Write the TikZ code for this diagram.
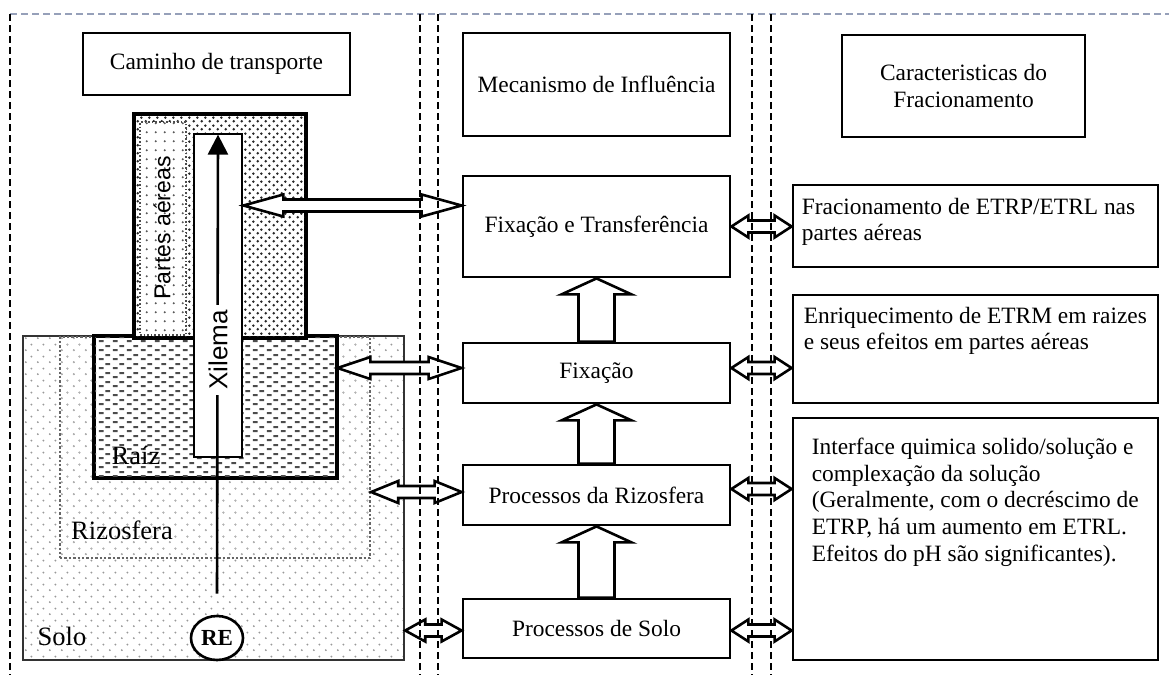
\documentclass[tikz,border=0pt]{standalone}
\usepackage{fontspec}
\setmainfont{Liberation Serif}
\newfontfamily\labelsans{Liberation Sans}
\usetikzlibrary{positioning,calc,shapes.geometric,patterns,arrows.meta}

\definecolor{framegray}{RGB}{150,160,185}

% fill patterns for the soil / plant cut-away
\pgfdeclarepatternformonly{leafdots}{\pgfpointorigin}{\pgfpoint{8pt}{8pt}}{\pgfpoint{8pt}{8pt}}{%
  \pgfpathcircle{\pgfpoint{2pt}{2pt}}{1.5pt}\pgfpathcircle{\pgfpoint{6pt}{6pt}}{1.5pt}\pgfusepath{fill}}
\pgfdeclarepatternformonly{paledots}{\pgfpointorigin}{\pgfpoint{9pt}{9pt}}{\pgfpoint{9pt}{9pt}}{%
  \pgfpathcircle{\pgfpoint{3pt}{3pt}}{1.2pt}\pgfusepath{fill}}
\pgfdeclarepatternformonly{soildots}{\pgfpointorigin}{\pgfpoint{12pt}{12pt}}{\pgfpoint{12pt}{12pt}}{%
  \pgfpathcircle{\pgfpoint{2pt}{2pt}}{1.1pt}\pgfpathcircle{\pgfpoint{8pt}{8pt}}{1.1pt}\pgfusepath{fill}}
\pgfdeclarepatternformonly{rootdash}{\pgfpointorigin}{\pgfpoint{14pt}{9pt}}{\pgfpoint{14pt}{9pt}}{%
  \pgfpathrectangle{\pgfpoint{1pt}{1pt}}{\pgfpoint{5pt}{2.2pt}}%
  \pgfpathrectangle{\pgfpoint{8pt}{5.5pt}}{\pgfpoint{5pt}{2.2pt}}\pgfusepath{fill}}

% hollow double arrow: left point, right point, head length, head half, shaft half
\newcommand{\twoway}[5]{%
  \draw[hollow] let \p1=#1, \p2=#2 in
    (\x1,\y1) -- (\x1+#3pt,\y1+#4pt) -- (\x1+#3pt,\y1+#5pt) -- (\x2-#3pt,\y1+#5pt)
    -- (\x2-#3pt,\y1+#4pt) -- (\x2,\y1) -- (\x2-#3pt,\y1-#4pt) -- (\x2-#3pt,\y1-#5pt)
    -- (\x1+#3pt,\y1-#5pt) -- (\x1+#3pt,\y1-#4pt) -- cycle;}
% hollow upward arrow: foot, tip
\newcommand{\oneup}[2]{%
  \draw[hollow] let \p1=#1, \p2=#2 in
    (\x1-18pt,\y1) -- (\x1-18pt,\y2-16pt) -- (\x1-35pt,\y2-16pt) -- (\x1,\y2)
    -- (\x1+35pt,\y2-16pt) -- (\x1+18pt,\y2-16pt) -- (\x1+18pt,\y1) -- cycle;}

\begin{document}
\begin{tikzpicture}[x=1pt,y=-1pt,
    boxnode/.style={draw,line width=2.8pt,inner sep=0pt,align=center,
      font=\fontsize{23.4}{27}\selectfont},
    txt/.style={inner sep=0pt,align=left,font=\fontsize{23.4}{26.8}\selectfont},
    region/.style={line width=2.8pt,inner sep=0pt},
    biglabel/.style={inner sep=0pt,font=\fontsize{26.5}{30}\selectfont},
    hollow/.style={draw,fill=white,line width=2.6pt,line join=miter},
    sepline/.style={line width=2.6pt,dash pattern=on 7pt off 4pt}]
  \useasboundingbox (0,0) rectangle (1169,675);

  % column titles
  \node[boxnode,minimum width=267pt,minimum height=62pt] (titleL) at (216.5,64) {Caminho de transporte};
  \node[boxnode,minimum width=267pt,minimum height=103pt] (titleM) at (596.5,84.5) {Mecanismo de Influência};
  \node[boxnode,minimum width=243pt,minimum height=102pt] (titleR) at (963.5,86)
    {Caracteristicas do\\Fracionamento};

  % cut-away: soil, rhizosphere, root, shoots, xylem
  \node[region,draw=black!80,line width=2.4pt,pattern=soildots,pattern color=black!40,
    minimum width=381pt,minimum height=324pt] (solo) at (213.5,498) {};
  \node[region,draw=black!60,line width=2.4pt,dotted,pattern=soildots,pattern color=black!30,
    minimum width=310pt,minimum height=221pt] (rizo) at (215,447.5) {};
  \node[region,draw,fill=white,minimum width=241pt,minimum height=140pt] (raiz) at (215.5,407) {};
  \fill[pattern=rootdash,pattern color=black!70] (raiz.south west) rectangle (raiz.north east);
  \draw[line width=2.8pt] (raiz.south west) rectangle (raiz.north east);
  \node[region,draw,fill=white,minimum width=170pt,minimum height=222pt] (partes) at (220,226) {};
  \fill[pattern=leafdots,pattern color=black!85] (partes.south west) rectangle (partes.north east);
  \node[region,draw=black!70,line width=1.6pt,dotted,fill=white,
    minimum width=46pt,minimum height=213pt] (pale) at (163,228.5) {};
  \fill[pattern=paledots,pattern color=black!65] (pale.south west) rectangle (pale.north east);
  \draw[line width=2.8pt] (partes.south west) rectangle (partes.north east);
  \node[region,draw,fill=white,minimum width=48pt,minimum height=323pt] (xyl) at (218,295.5) {};

  % labels of the cut-away
  \node[inner sep=0pt,rotate=90,font=\labelsans\fontsize{23}{26}\selectfont] (lbPartes) at (162,228) {Partes aéreas};
  \node[biglabel] (lbRaiz) at (136,455) {Raíz};
  \node[biglabel] (lbRizo) at (122,530) {Rizosfera};
  \node[biglabel] (lbSolo) at (62,636) {Solo};
  \node[draw,ellipse,line width=2.6pt,fill=white,inner sep=0pt,minimum width=52pt,minimum height=44pt,
    font=\bfseries\fontsize{23}{25}\selectfont] (re) at (217,638) {RE};

  % uptake path up the xylem
  \coordinate (xstart) at ($(re.north)+(0,-21)$);
  \draw[line width=2.6pt,-{Triangle[length=20pt,width=20pt]}] (xstart) -- ($(xyl.north)+(0,2)$);
  \node[fill=white,inner sep=5pt,rotate=90,font=\labelsans\fontsize{26}{28}\selectfont] (lbXyl) at (218,350) {Xilema};

  % mechanisms
  \node[boxnode,minimum width=267pt,minimum height=101pt] (fixT) at (596.5,226.5) {Fixação e Transferência};
  \node[boxnode,minimum width=267pt,minimum height=60pt] (fix) at (596.5,373) {Fixação};
  \node[boxnode,minimum width=267pt,minimum height=60pt] (procR) at (596.5,495) {Processos da Rizosfera};
  \node[boxnode,minimum width=267pt,minimum height=59pt] (procS) at (596.5,628.5) {Processos de Solo};

  % fractionation characteristics
  \node[boxnode,minimum width=365pt,minimum height=82pt] (frac1) at (975.5,226) {};
  \node[boxnode,minimum width=365pt,minimum height=108pt] (frac2) at (975.5,349) {};
  \node[boxnode,minimum width=365pt,minimum height=242pt] (frac3) at (975.5,539) {};
  \node[txt,below right=14pt and 10pt of frac1.north west] (txt1)
    {Fracionamento de ETRP/ETRL nas\\partes aéreas};
  \node[txt,below right=13pt and 12pt of frac2.north west] (txt2)
    {Enriquecimento de ETRM em raizes\\e seus efeitos em partes aéreas};
  \node[txt,below right=21pt and 20pt of frac3.north west] (txt3)
    {Interface quimica solido/solução e\\complexação da solução\\(Geralmente, com o decréscimo de\\
     ETRP, há um aumento em ETRL.\\Efeitos do pH são significantes).};

  % hollow arrows, left side
  \twoway{($(xyl.east |- fixT.west)+(0,-21)$)}{(fixT.west)}{40}{11}{6}
  \twoway{($(raiz.east |- fix.west)+(0,-5)$)}{(fix.west)}{33}{11}{6}
  \twoway{($(rizo.east |- procR.west)+(0,-3)$)}{(procR.west)}{27}{11}{6}
  \twoway{($(solo.east |- procS.west)+(0,2)$)}{(procS.west)}{20}{11}{6}
  % hollow arrows, right side
  \twoway{(fixT.east)}{(frac1.west)}{17}{11}{6}
  \twoway{($(fix.east)+(0,-5)$)}{(frac2.west)}{17}{11}{6}
  \twoway{($(procR.east)+(0,-6)$)}{(frac3.west)}{17}{11}{6}
  \twoway{($(procS.east)+(0,2)$)}{(frac3.west)}{17}{11}{6}
  % upward arrows between mechanisms
  \oneup{(procS.north)}{(procR.south)}
  \oneup{(procR.north)}{(fix.south)}
  \oneup{(fix.north)}{(fixT.south)}

  % dashed frame and column separators
  \draw[sepline,draw=framegray] (10,14) -- (1169,14);
  \foreach \xs in {10,420,438,752,771}
    \draw[sepline] (\xs,14) -- (\xs,675);
\end{tikzpicture}
\end{document}
